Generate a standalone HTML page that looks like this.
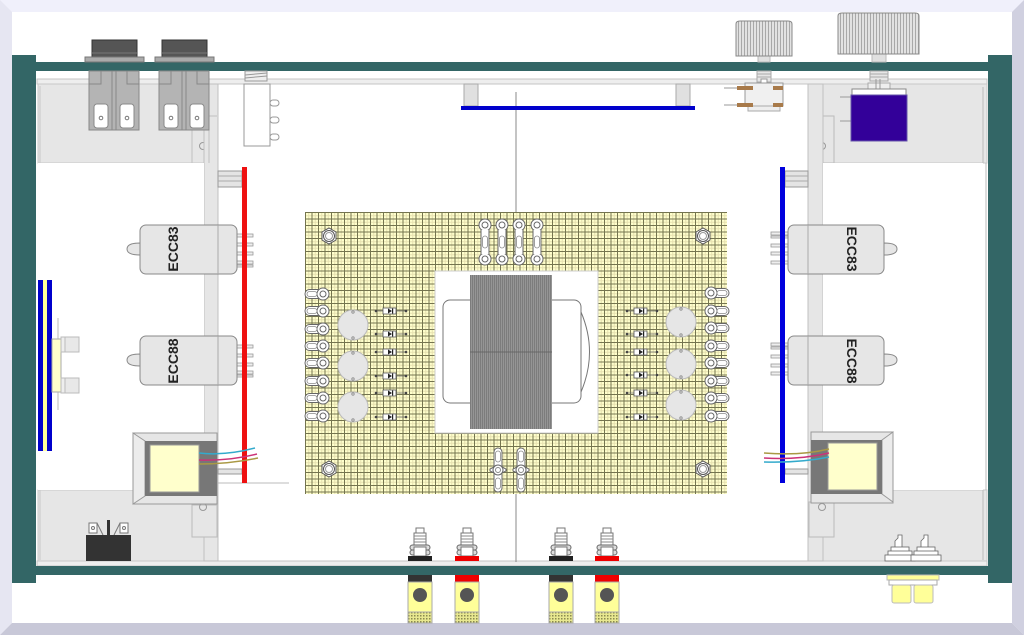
<!DOCTYPE html>
<html><head><meta charset="utf-8"><style>
html,body{margin:0;padding:0;background:#fff;}
svg{display:block;}
text{font-family:"Liberation Sans",sans-serif;}
</style></head><body>
<svg width="1024" height="635" viewBox="0 0 1024 635" xmlns="http://www.w3.org/2000/svg">
<defs>
<pattern id="grid" x="305" y="212" width="6.5" height="6.5" patternUnits="userSpaceOnUse">
<rect width="6.5" height="6.5" fill="#ffffcc"/>
<rect x="3.25" y="0" width="1" height="6.5" fill="#e6e0b0"/>
<rect x="0" y="3.25" width="6.5" height="1" fill="#e6e0b0"/>
<rect x="0" y="0" width="1" height="6.5" fill="#74744f"/>
<rect x="0" y="0" width="6.5" height="1" fill="#74744f"/>
</pattern>
<pattern id="core" x="0" y="0" width="2" height="10" patternUnits="userSpaceOnUse">
<rect width="2" height="10" fill="#959595"/>
<rect width="1" height="10" fill="#7c7c7c"/>
</pattern>
<pattern id="knurl" x="0" y="0" width="3" height="10" patternUnits="userSpaceOnUse">
<rect width="3" height="10" fill="#e2e2e2"/>
<rect width="1" height="10" fill="#a8a8a8"/>
</pattern>
<pattern id="knurl2" x="0" y="0" width="3" height="3" patternUnits="userSpaceOnUse">
<rect width="3" height="3" fill="#e8e890"/>
<rect width="1.5" height="1.5" fill="#8a8a50"/>
</pattern>
<g id="lugL">
<rect x="-18" y="-4.5" width="22" height="9" rx="4.5" fill="#fff" stroke="#666" stroke-width="1"/>
<circle cx="0" cy="0" r="6" fill="#fff" stroke="#666"/>
<circle cx="0" cy="0" r="3" fill="#fff" stroke="#666"/>
<rect x="-16" y="-2.5" width="10" height="5" rx="2.5" fill="#fff" stroke="#888" stroke-width="0.8"/>
</g>
<g id="diode">
<line x1="-13" y1="0" x2="17" y2="0" stroke="#666" stroke-width="0.8"/>
<circle cx="-13" cy="0" r="1.3" fill="#444"/>
<circle cx="17" cy="0" r="1.3" fill="#444"/>
<rect x="-6" y="-3" width="13" height="6" fill="#fff" stroke="#555" stroke-width="0.8"/>
<path d="M-1,-2.5 L3,0 L-1,2.5 Z" fill="#222"/>
<rect x="3" y="-2.5" width="1.2" height="5" fill="#222"/>
</g>
<g id="hole">
<polygon points="-7,-4 0,-8 7,-4 7,4 0,8 -7,4" fill="#fff" stroke="#555"/>
<circle r="5.5" fill="#fff" stroke="#555"/>
<circle r="3.5" fill="#fff" stroke="#999"/>
</g>
<g id="vlug">
<rect x="-4" y="0" width="8" height="34" fill="#fff" stroke="#666"/>
<circle cx="0" cy="0" r="6" fill="#fff" stroke="#666"/>
<circle cx="0" cy="34" r="6" fill="#fff" stroke="#666"/>
<circle cx="0" cy="0" r="3" fill="#fff" stroke="#666"/>
<circle cx="0" cy="34" r="3" fill="#fff" stroke="#666"/>
<rect x="-4" y="5" width="8" height="24" fill="#fff"/>
<line x1="-4" y1="5" x2="-4" y2="29" stroke="#666"/>
<line x1="4" y1="5" x2="4" y2="29" stroke="#666"/>
<rect x="-2.5" y="11" width="5" height="12" rx="2.5" fill="#fff" stroke="#888" stroke-width="0.8"/>
</g>
<g id="blug">
<rect x="-4" y="-22" width="8" height="44" rx="4" fill="#fff" stroke="#666"/>
<path d="M-4,-3 L-8,-1 L-8,1 L-4,3 Z M4,-3 L8,-1 L8,1 L4,3 Z" fill="#fff" stroke="#666"/>
<circle r="5" fill="#fff" stroke="#666"/>
<circle r="2.5" fill="#fff" stroke="#888"/>
<rect x="-2.5" y="-19" width="5" height="11" rx="2.5" fill="#fff" stroke="#888" stroke-width="0.8"/>
<rect x="-2.5" y="8" width="5" height="11" rx="2.5" fill="#fff" stroke="#888" stroke-width="0.8"/>
</g>
<g id="postTop">
<rect x="-4" y="528" width="8" height="5" fill="#fff" stroke="#777"/>
<rect x="-6" y="533" width="12" height="14" fill="#fff" stroke="#777"/>
<line x1="-6" y1="536" x2="6" y2="536" stroke="#888"/>
<line x1="-6" y1="539" x2="6" y2="539" stroke="#888"/>
<line x1="-6" y1="542" x2="6" y2="542" stroke="#888"/>
<rect x="-10" y="545" width="20" height="5" rx="2.5" fill="#ddd" stroke="#666"/>
<rect x="-10" y="550" width="20" height="5" rx="2.5" fill="#ddd" stroke="#666"/>
<rect x="-6" y="547" width="12" height="9" fill="#fff" stroke="#777"/>
</g>
<g id="postBot">
<rect x="-12" y="582" width="24" height="30" fill="#ffff99" stroke="#aaa"/>
<circle cx="0" cy="595" r="7" fill="#555"/>
<rect x="-12" y="612" width="24" height="11" fill="url(#knurl2)" stroke="#aaa"/>
</g>
</defs>

<!-- outer frame -->
<rect x="0" y="0" width="1024" height="635" fill="#fff"/>
<rect x="0" y="0" width="1024" height="12" fill="#f0f0fb"/>
<polygon points="0,0 12,12 12,623 0,635" fill="#e6e6f2"/>
<polygon points="1024,0 1012,12 1012,623 1024,635" fill="#d0d0e0"/>
<polygon points="0,635 12,623 1012,623 1024,635" fill="#c8c8d8"/>

<!-- chassis interior -->
<rect x="36" y="71" width="952" height="495" fill="#fff"/>
<rect x="37" y="79" width="950" height="5" fill="#eeeeee" stroke="#c4c4c4" stroke-width="1"/>
<rect x="37" y="561" width="950" height="5" fill="#eeeeee" stroke="#c4c4c4" stroke-width="1"/>

<!-- left gray regions -->
<rect x="38" y="84" width="180" height="79" fill="#e6e6e6" stroke="#c8c8c8"/>
<line x1="40" y1="86" x2="40" y2="163" stroke="#c8c8c8"/>
<line x1="192" y1="84" x2="192" y2="163" stroke="#c0c0c0"/>
<circle cx="203" cy="146" r="3.5" fill="none" stroke="#999"/>
<rect x="38" y="490" width="180" height="71" fill="#e6e6e6" stroke="#c8c8c8"/>
<line x1="40" y1="490" x2="40" y2="560" stroke="#c8c8c8"/>
<rect x="204" y="84" width="14" height="477" fill="#e6e6e6" stroke="#c0c0c0"/>
<line x1="209" y1="93" x2="209" y2="163" stroke="#c0c0c0"/>
<line x1="209" y1="116" x2="217" y2="116" stroke="#c0c0c0"/>
<rect x="192" y="505" width="25" height="32" fill="#e6e6e6" stroke="#bbb"/>
<circle cx="203" cy="507" r="3.5" fill="none" stroke="#999"/>
<rect x="38" y="163" width="166" height="327" fill="#fff"/>

<!-- right gray regions -->
<rect x="808" y="84" width="179" height="79" fill="#e6e6e6" stroke="#c8c8c8"/>
<line x1="983" y1="87" x2="983" y2="163" stroke="#bbb"/>
<rect x="808" y="116" width="26" height="47" fill="#e6e6e6" stroke="#bbb"/>
<circle cx="822" cy="146" r="3.5" fill="none" stroke="#999"/>
<rect x="808" y="490" width="179" height="71" fill="#e6e6e6" stroke="#c8c8c8"/>
<line x1="983" y1="490" x2="983" y2="560" stroke="#bbb"/>
<rect x="808" y="84" width="15" height="477" fill="#e6e6e6" stroke="#c0c0c0"/>
<rect x="809" y="502" width="25" height="35" fill="#e6e6e6" stroke="#bbb"/>
<circle cx="822" cy="507" r="3.5" fill="none" stroke="#999"/>
<rect x="823" y="163" width="160" height="327" fill="#fff"/>
<line x1="986" y1="163" x2="986" y2="490" stroke="#bbb"/>

<!-- center vertical line -->
<line x1="516" y1="92" x2="516" y2="562" stroke="#888" stroke-width="1"/>

<!-- green case -->
<rect x="36" y="62" width="952" height="9" fill="#336666"/>
<rect x="36" y="566" width="952" height="9" fill="#336666"/>
<rect x="12" y="55" width="24" height="528" fill="#336666"/>
<rect x="988" y="55" width="24" height="528" fill="#336666"/>

<!-- top-left connectors -->
<g>
<rect x="92" y="40" width="45" height="17" fill="#555" stroke="#333"/>
<line x1="92" y1="53" x2="137" y2="53" stroke="#777"/>
<rect x="85" y="57" width="59" height="5" fill="#aaa" stroke="#777"/>
<rect x="89" y="71" width="50" height="59" fill="#b4b4b4" stroke="#888"/>
<line x1="112" y1="71" x2="112" y2="130" stroke="#888"/>
<line x1="116" y1="71" x2="116" y2="130" stroke="#888"/>
<path d="M101,71 L101,84 L89,84 M127,71 L127,84 L139,84" fill="none" stroke="#888"/>
<rect x="94" y="104" width="14" height="24" rx="3" fill="#fff" stroke="#888"/>
<rect x="120" y="104" width="14" height="24" rx="3" fill="#fff" stroke="#888"/>
<circle cx="101" cy="118" r="1.8" fill="none" stroke="#777"/>
<circle cx="127" cy="118" r="1.8" fill="none" stroke="#777"/>
</g>
<g>
<rect x="162" y="40" width="45" height="17" fill="#555" stroke="#333"/>
<line x1="162" y1="53" x2="207" y2="53" stroke="#777"/>
<rect x="155" y="57" width="59" height="5" fill="#aaa" stroke="#777"/>
<rect x="159" y="71" width="50" height="59" fill="#b4b4b4" stroke="#888"/>
<line x1="182" y1="71" x2="182" y2="130" stroke="#888"/>
<line x1="186" y1="71" x2="186" y2="130" stroke="#888"/>
<path d="M171,71 L171,84 L159,84 M197,71 L197,84 L209,84" fill="none" stroke="#888"/>
<rect x="164" y="104" width="14" height="24" rx="3" fill="#fff" stroke="#888"/>
<rect x="190" y="104" width="14" height="24" rx="3" fill="#fff" stroke="#888"/>
<circle cx="171" cy="118" r="1.8" fill="none" stroke="#777"/>
<circle cx="197" cy="118" r="1.8" fill="none" stroke="#777"/>
</g>

<!-- top switch -->
<rect x="245" y="71" width="22" height="10" fill="#eee" stroke="#999"/>
<line x1="245" y1="75" x2="267" y2="73" stroke="#999"/>
<line x1="245" y1="78" x2="267" y2="76" stroke="#999"/>
<rect x="270" y="100" width="9" height="6" rx="3" fill="#fff" stroke="#999"/>
<rect x="270" y="117" width="9" height="6" rx="3" fill="#fff" stroke="#999"/>
<rect x="270" y="134" width="9" height="6" rx="3" fill="#fff" stroke="#999"/>
<rect x="244" y="84" width="26" height="62" fill="#fff" stroke="#999"/>

<!-- top blue bar -->
<rect x="464" y="84" width="14" height="22" fill="#e0e0e0" stroke="#aaa"/>
<rect x="676" y="84" width="14" height="22" fill="#e0e0e0" stroke="#aaa"/>
<rect x="461" y="106" width="234" height="4" fill="#0000cc"/>

<!-- small knob + switch -->
<rect x="758" y="56" width="12" height="6" fill="#e0e0e0" stroke="#bbb"/>
<path d="M736,56 L736,24 Q736,21 740,21 L788,21 Q792,21 792,24 L792,56 Z" fill="url(#knurl)" stroke="#888"/>
<rect x="757" y="71" width="14" height="11" fill="#e6e6e6" stroke="#aaa"/>
<line x1="757" y1="74" x2="771" y2="74" stroke="#aaa"/>
<line x1="757" y1="77" x2="771" y2="77" stroke="#aaa"/>
<rect x="761" y="79" width="6" height="6" fill="#fff" stroke="#999"/>
<line x1="724" y1="88" x2="745" y2="88" stroke="#999"/>
<line x1="724" y1="105" x2="745" y2="105" stroke="#999"/>
<rect x="745" y="83" width="38" height="23" fill="#f0f0f0" stroke="#999"/>
<rect x="748" y="106" width="32" height="5" fill="#eee" stroke="#aaa"/>
<rect x="737" y="86" width="16" height="4" fill="#a87a4a"/>
<rect x="773" y="86" width="10" height="4" fill="#a87a4a"/>
<rect x="737" y="103" width="16" height="4" fill="#a87a4a"/>
<rect x="773" y="103" width="10" height="4" fill="#a87a4a"/>

<!-- big knob + purple pot -->
<rect x="872" y="54" width="14" height="8" fill="#e0e0e0" stroke="#bbb"/>
<path d="M838,54 L838,16 Q838,13 842,13 L915,13 Q919,13 919,16 L919,54 Z" fill="url(#knurl)" stroke="#888"/>
<rect x="870" y="71" width="18" height="10" fill="#e6e6e6" stroke="#aaa"/>
<line x1="870" y1="74" x2="888" y2="74" stroke="#aaa"/>
<line x1="870" y1="77" x2="888" y2="77" stroke="#aaa"/>
<rect x="868" y="83" width="22" height="7" fill="#eee" stroke="#aaa"/>
<line x1="876" y1="79" x2="876" y2="90" stroke="#999"/>
<line x1="880" y1="79" x2="880" y2="90" stroke="#999"/>
<rect x="852" y="89" width="54" height="6" fill="#fff" stroke="#888"/>
<line x1="840" y1="97" x2="851" y2="97" stroke="#999"/>
<line x1="840" y1="121" x2="851" y2="121" stroke="#999"/>
<rect x="851" y="95" width="56" height="46" fill="#330099" stroke="#6655aa"/>

<!-- red bar left + connectors -->
<rect x="218" y="171" width="24" height="16" fill="#e4e4e4" stroke="#999"/>
<line x1="218" y1="176" x2="242" y2="176" stroke="#aaa"/>
<line x1="218" y1="181" x2="242" y2="181" stroke="#aaa"/>
<rect x="218" y="469" width="24" height="5" fill="#e4e4e4" stroke="#999"/>
<line x1="218" y1="483" x2="289" y2="483" stroke="#bbb"/>

<!-- blue bar right connectors -->
<rect x="785" y="171" width="23" height="16" fill="#e4e4e4" stroke="#999"/>
<line x1="785" y1="176" x2="808" y2="176" stroke="#aaa"/>
<line x1="785" y1="181" x2="808" y2="181" stroke="#aaa"/>
<rect x="785" y="469" width="23" height="5" fill="#e4e4e4" stroke="#999"/>

<!-- left tubes -->
<g>
<path d="M140,243 Q127,243 127,249 Q127,255 140,255 Z" fill="#e6e6e6" stroke="#888"/>
<rect x="237" y="234" width="16" height="3" fill="#eee" stroke="#999" stroke-width="0.8"/>
<rect x="237" y="243" width="16" height="3" fill="#eee" stroke="#999" stroke-width="0.8"/>
<rect x="237" y="252" width="16" height="3" fill="#eee" stroke="#999" stroke-width="0.8"/>
<rect x="237" y="261" width="16" height="3" fill="#eee" stroke="#999" stroke-width="0.8"/>
<rect x="237" y="265" width="16" height="2" fill="#eee" stroke="#999" stroke-width="0.8"/>
<rect x="140" y="225" width="97" height="49" rx="6" fill="#e6e6e6" stroke="#888"/>
<text transform="translate(178,249) rotate(-90)" text-anchor="middle" font-size="14" font-weight="bold" fill="#222">ECC83</text>
</g>
<g>
<path d="M140,354 Q127,354 127,360 Q127,366 140,366 Z" fill="#e6e6e6" stroke="#888"/>
<rect x="237" y="345" width="16" height="3" fill="#eee" stroke="#999" stroke-width="0.8"/>
<rect x="237" y="354" width="16" height="3" fill="#eee" stroke="#999" stroke-width="0.8"/>
<rect x="237" y="363" width="16" height="3" fill="#eee" stroke="#999" stroke-width="0.8"/>
<rect x="237" y="371" width="16" height="3" fill="#eee" stroke="#999" stroke-width="0.8"/>
<rect x="237" y="375" width="16" height="2" fill="#eee" stroke="#999" stroke-width="0.8"/>
<rect x="140" y="336" width="97" height="49" rx="6" fill="#e6e6e6" stroke="#888"/>
<text transform="translate(178,361) rotate(-90)" text-anchor="middle" font-size="14" font-weight="bold" fill="#222">ECC88</text>
</g>
<line x1="218" y1="225" x2="218" y2="274" stroke="#aaa"/>
<line x1="218" y1="336" x2="218" y2="385" stroke="#aaa"/>
<rect x="242" y="167" width="5" height="316" fill="#ee1111"/>

<!-- right tubes -->
<g>
<path d="M884,243 Q897,243 897,249 Q897,255 884,255 Z" fill="#e6e6e6" stroke="#888"/>
<rect x="771" y="232" width="17" height="3" fill="#eee" stroke="#999" stroke-width="0.8"/>
<rect x="771" y="236" width="17" height="2" fill="#eee" stroke="#999" stroke-width="0.8"/>
<rect x="771" y="244" width="17" height="3" fill="#eee" stroke="#999" stroke-width="0.8"/>
<rect x="771" y="252" width="17" height="3" fill="#eee" stroke="#999" stroke-width="0.8"/>
<rect x="771" y="261" width="17" height="3" fill="#eee" stroke="#999" stroke-width="0.8"/>
<rect x="788" y="225" width="96" height="49" rx="6" fill="#e6e6e6" stroke="#888"/>
<text transform="translate(847,249) rotate(90)" text-anchor="middle" font-size="14" font-weight="bold" fill="#222">ECC83</text>
</g>
<g>
<path d="M884,354 Q897,354 897,360 Q897,366 884,366 Z" fill="#e6e6e6" stroke="#888"/>
<rect x="771" y="343" width="17" height="3" fill="#eee" stroke="#999" stroke-width="0.8"/>
<rect x="771" y="347" width="17" height="2" fill="#eee" stroke="#999" stroke-width="0.8"/>
<rect x="771" y="355" width="17" height="3" fill="#eee" stroke="#999" stroke-width="0.8"/>
<rect x="771" y="364" width="17" height="3" fill="#eee" stroke="#999" stroke-width="0.8"/>
<rect x="771" y="372" width="17" height="3" fill="#eee" stroke="#999" stroke-width="0.8"/>
<rect x="788" y="336" width="96" height="49" rx="6" fill="#e6e6e6" stroke="#888"/>
<text transform="translate(847,361) rotate(90)" text-anchor="middle" font-size="14" font-weight="bold" fill="#222">ECC88</text>
</g>
<line x1="808" y1="225" x2="808" y2="274" stroke="#aaa"/>
<line x1="808" y1="336" x2="808" y2="385" stroke="#aaa"/>
<rect x="780" y="167" width="5" height="316" fill="#0000dd"/>

<!-- left wall blue/yellow stack -->
<line x1="58" y1="318" x2="58" y2="410" stroke="#bbb"/>
<rect x="38" y="280" width="5" height="171" fill="#0000cc"/>
<rect x="43" y="280" width="4" height="171" fill="#ffff99"/>
<rect x="47" y="280" width="5" height="171" fill="#0000cc"/>
<rect x="52" y="339" width="9" height="53" fill="#ffffcc" stroke="#aaa"/>
<rect x="61" y="337" width="4" height="15" fill="#eee" stroke="#bbb"/>
<rect x="65" y="337" width="14" height="15" fill="#e8e8e8" stroke="#bbb"/>
<rect x="61" y="378" width="4" height="15" fill="#eee" stroke="#bbb"/>
<rect x="65" y="378" width="14" height="15" fill="#e8e8e8" stroke="#bbb"/>

<!-- left transformer -->
<rect x="133" y="433" width="84" height="71" fill="#e6e6e6" stroke="#999"/>
<polygon points="133,433 145,441 145,496 133,504" fill="#ececec" stroke="#999"/>
<rect x="145" y="441" width="72" height="55" fill="#777"/>
<rect x="150" y="445" width="49" height="47" fill="#ffffcc" stroke="#999"/>
<path d="M199,453 Q225,456 255,448" fill="none" stroke="#33aacc" stroke-width="1.5"/>
<path d="M199,460 Q230,461 257,454" fill="none" stroke="#cc3377" stroke-width="1.5"/>
<path d="M199,464 Q230,464 258,458" fill="none" stroke="#aa9944" stroke-width="1.5"/>

<!-- right transformer -->
<rect x="811" y="432" width="82" height="71" fill="#e6e6e6" stroke="#999"/>
<polygon points="893,432 882,440 882,494 893,502" fill="#ececec" stroke="#999"/>
<rect x="811" y="440" width="71" height="54" fill="#777"/>
<rect x="828" y="443" width="49" height="47" fill="#ffffcc" stroke="#999"/>
<path d="M764,453 Q800,456 829,449" fill="none" stroke="#aa9944" stroke-width="1.5"/>
<path d="M764,458 Q800,460 829,453" fill="none" stroke="#cc3377" stroke-width="1.5"/>
<path d="M764,462 Q800,463 829,457" fill="none" stroke="#33aacc" stroke-width="1.5"/>

<!-- bottom-left black box -->
<rect x="89" y="523" width="8" height="10" fill="#fff" stroke="#777"/>
<rect x="120" y="523" width="8" height="10" fill="#fff" stroke="#777"/>
<circle cx="93" cy="528" r="1.5" fill="none" stroke="#777"/>
<circle cx="124" cy="528" r="1.5" fill="none" stroke="#777"/>
<line x1="97" y1="523" x2="103" y2="535" stroke="#777"/>
<line x1="120" y1="523" x2="114" y2="535" stroke="#777"/>
<rect x="107" y="520" width="3" height="15" fill="#333"/>
<rect x="86" y="535" width="45" height="26" fill="#333"/>

<!-- bottom-right toggles -->
<g fill="#fff" stroke="#666" stroke-width="0.8">
<path d="M895,548 L895,541 L898,538 L898,535 L902,535 L902,548 Z"/>
<rect x="891" y="547" width="18" height="5"/>
<rect x="888" y="551" width="24" height="5"/>
<rect x="885" y="555" width="30" height="6"/>
<path d="M921,548 L921,541 L924,538 L924,535 L928,535 L928,548 Z"/>
<rect x="917" y="547" width="18" height="5"/>
<rect x="914" y="551" width="24" height="5"/>
<rect x="911" y="555" width="30" height="6"/>
</g>

<!-- right RCA below bar -->
<rect x="887" y="575" width="52" height="5" fill="#ffff99" stroke="#bbb"/>
<rect x="889" y="580" width="48" height="5" fill="#fff" stroke="#aaa"/>
<rect x="892" y="585" width="19" height="18" rx="2" fill="#ffff99" stroke="#bbb"/>
<rect x="914" y="585" width="19" height="18" rx="2" fill="#ffff99" stroke="#bbb"/>

<!-- binding posts -->
<g transform="translate(420,0)"><use href="#postTop"/><rect x="-12" y="556" width="24" height="5" fill="#222"/><rect x="-12" y="575" width="24" height="7" fill="#333"/><use href="#postBot"/></g>
<g transform="translate(467,0)"><use href="#postTop"/><rect x="-12" y="556" width="24" height="5" fill="#e00"/><rect x="-12" y="575" width="24" height="7" fill="#e00"/><use href="#postBot"/></g>
<g transform="translate(561,0)"><use href="#postTop"/><rect x="-12" y="556" width="24" height="5" fill="#222"/><rect x="-12" y="575" width="24" height="7" fill="#333"/><use href="#postBot"/></g>
<g transform="translate(607,0)"><use href="#postTop"/><rect x="-12" y="556" width="24" height="5" fill="#e00"/><rect x="-12" y="575" width="24" height="7" fill="#e00"/><use href="#postBot"/></g>

<!-- center board -->
<rect x="305" y="212" width="422" height="282" fill="url(#grid)"/>
<rect x="435" y="271" width="163" height="162" fill="#fff" stroke="#ccc"/>
<rect x="443" y="300" width="138" height="103" rx="7" fill="#fff" stroke="#777"/>
<path d="M581,312 Q598,352 581,392" fill="none" stroke="#777"/>
<rect x="470" y="275" width="82" height="154" fill="url(#core)"/>
<line x1="470" y1="352" x2="552" y2="352" stroke="#666"/>

<use href="#hole" x="329" y="236"/>
<use href="#hole" x="703" y="236"/>
<use href="#hole" x="329" y="469"/>
<use href="#hole" x="703" y="469"/>

<use href="#vlug" x="485" y="225"/>
<use href="#vlug" x="502" y="225"/>
<use href="#vlug" x="519" y="225"/>
<use href="#vlug" x="537" y="225"/>

<use href="#blug" x="498" y="470"/>
<use href="#blug" x="521" y="470"/>

<!-- left lugs -->
<use href="#lugL" x="323" y="294"/>
<use href="#lugL" x="323" y="311"/>
<use href="#lugL" x="323" y="329"/>
<use href="#lugL" x="323" y="346"/>
<use href="#lugL" x="323" y="363"/>
<use href="#lugL" x="323" y="381"/>
<use href="#lugL" x="323" y="398"/>
<use href="#lugL" x="323" y="416"/>
<!-- right lugs (mirrored) -->
<g transform="translate(1032,0) scale(-1,1)">
<use href="#lugL" x="321" y="293"/>
<use href="#lugL" x="321" y="311"/>
<use href="#lugL" x="321" y="328"/>
<use href="#lugL" x="321" y="346"/>
<use href="#lugL" x="321" y="363"/>
<use href="#lugL" x="321" y="381"/>
<use href="#lugL" x="321" y="398"/>
<use href="#lugL" x="321" y="416"/>
</g>

<!-- big caps -->
<g fill="#e6e6e6" stroke="#bbb">
<circle cx="353" cy="325" r="15"/>
<circle cx="353" cy="366" r="15"/>
<circle cx="353" cy="407" r="15"/>
<circle cx="681" cy="322" r="15"/>
<circle cx="681" cy="364" r="15"/>
<circle cx="681" cy="405" r="15"/>
</g>
<g fill="none" stroke="#888" stroke-width="0.8">
<circle cx="353" cy="312" r="1.2"/><circle cx="353" cy="338" r="1.2"/>
<circle cx="353" cy="353" r="1.2"/><circle cx="353" cy="379" r="1.2"/>
<circle cx="353" cy="394" r="1.2"/><circle cx="353" cy="420" r="1.2"/>
<circle cx="681" cy="309" r="1.2"/><circle cx="681" cy="335" r="1.2"/>
<circle cx="681" cy="351" r="1.2"/><circle cx="681" cy="377" r="1.2"/>
<circle cx="681" cy="392" r="1.2"/><circle cx="681" cy="418" r="1.2"/>
</g>

<!-- diodes -->
<use href="#diode" x="389" y="311"/>
<use href="#diode" x="389" y="334"/>
<use href="#diode" x="389" y="352"/>
<use href="#diode" x="389" y="376"/>
<use href="#diode" x="389" y="393"/>
<use href="#diode" x="389" y="417"/>
<use href="#diode" x="640" y="311"/>
<use href="#diode" x="640" y="334"/>
<use href="#diode" x="640" y="352"/>
<use href="#diode" x="640" y="375"/>
<use href="#diode" x="640" y="393"/>
<use href="#diode" x="640" y="417"/>
</svg>
</body></html>
